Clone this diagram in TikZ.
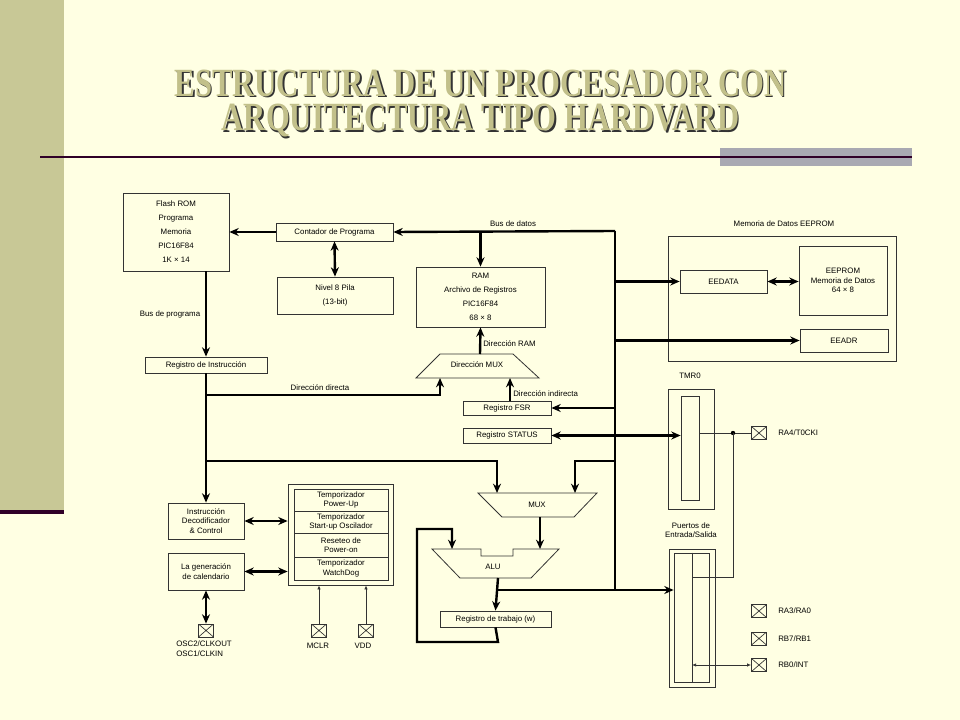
\documentclass[tikz,border=0pt]{standalone}
\usepackage{fontspec}
\setmainfont{Liberation Sans}
\newfontfamily\titlefont{Liberation Serif}
\usetikzlibrary{arrows.meta}
\definecolor{bg}{HTML}{FFFFE3}
\definecolor{barc}{HTML}{C8C896}
\definecolor{rulec}{HTML}{300028}
\definecolor{greyc}{HTML}{A9A9B2}
\definecolor{titc}{HTML}{C2C08A}
\definecolor{linec}{HTML}{333333}
\tikzset{
  bx/.style 2 args={draw=linec, line width=0.6pt, minimum width=#1*0.75pt, minimum height=#2*0.75pt, inner sep=0pt, align=center, font=\fontsize{5.9}{7}\selectfont},
  lbl/.style={font=\fontsize{5.9}{7}\selectfont, inner sep=0pt, align=center},
  ttl/.style={font=\titlefont\bfseries\fontsize{25}{28}\selectfont, xscale=0.92, yscale=1.2},
  bus/.style={line width=1.8pt, black},
  busa/.style={bus, -{Stealth[length=7pt,width=6pt]}},
  busb/.style={bus, {Stealth[length=7pt,width=6pt]}-{Stealth[length=7pt,width=6pt]}},
  thin/.style={draw=linec, line width=0.5pt},
  pin/.style={draw=linec, line width=0.6pt, minimum width=15*0.75pt, minimum height=13*0.75pt, inner sep=0pt,
    path picture={\draw[linec,line width=0.5pt] (path picture bounding box.south west)--(path picture bounding box.north east) (path picture bounding box.north west)--(path picture bounding box.south east);}}
}
\begin{document}
\begin{tikzpicture}[x=0.75pt,y=-0.75pt]
\fill[bg] (0,0) rectangle (960,720);
\useasboundingbox (0,0) rectangle (960,720);
\fill[barc] (0,0) rectangle (64,510);
\fill[rulec] (0,510) rectangle (64,514);
\fill[greyc] (720,148) rectangle (912,166);
\fill[rulec] (40,156) rectangle (912,158.5);
% title
\node (s1) [ttl, text=black!80] at (482,84.5) {ESTRUCTURA DE UN PROCESADOR CON};
\node (s2) [ttl, text=black!80] at (482,122.5) {ARQUITECTURA TIPO HARDVARD};
\node (t1) [ttl, text=titc] at (480.5,83) {ESTRUCTURA DE UN PROCESADOR CON};
\node (t2) [ttl, text=titc] at (480.5,121) {ARQUITECTURA TIPO HARDVARD};

% boxes
\node (rom) [bx={106}{78}, font=\fontsize{5.9}{10.5}\selectfont] at (176,232) {Flash ROM\\Programa\\Memoria\\PIC16F84\\1K × 14};
\node (pc) [bx={117}{18}] at (334.5,232) {Contador de Programa};
\node (pila) [bx={116}{37}, font=\fontsize{5.9}{10.5}\selectfont] at (335,295.5) {Nivel 8 Pila\\(13-bit)};
\node (ram) [bx={129}{60}, font=\fontsize{5.9}{10.5}\selectfont] at (480.5,297) {RAM\\Archivo de Registros\\PIC16F84\\68 × 8};
\node (ri) [bx={122}{16}] at (206,365) {Registro de Instrucción};
\node (fsr) [bx={88}{14}] at (507,408) {Registro FSR};
\node (status) [bx={88}{15}] at (507,435.5) {Registro STATUS};
\node (dec) [bx={76}{36}] at (206,521) {Instrucción\\Decodificador\\\& Control};
\node (gen) [bx={76}{37}] at (206,571.5) {La generación\\de calendario};
\node (timer) [bx={105}{101}] at (340.5,534.5) {};
\node (r1) [bx={94}{22}] at (341,500) {Temporizador\\Power-Up};
\node (r2) [bx={94}{22}] at (341,522) {Temporizador\\Start-up Oscilador};
\node (r3) [bx={94}{24}] at (341,545) {Reseteo de\\Power-on};
\node (r4) [bx={94}{23}] at (341,568.5) {Temporizador\\WatchDog};
\node (w) [bx={111}{16}] at (495.5,619) {Registro de trabajo (w)};
\node (eemem) [bx={228}{125}] at (782,298.5) {};
\node (eememl) [lbl] at (784,224) {Memoria de Datos EEPROM};
\node (eedata) [bx={87}{23}] at (723.5,281.5) {EEDATA};
\node (eeprom) [bx={88}{69}] at (843,280.5) {EEPROM\\Memoria de Datos\\64 × 8};
\node (eeadr) [bx={88}{23}] at (844,340.5) {EEADR};
\node (tmr) [bx={46}{120}] at (691,449) {};
\node (tmri) [bx={18}{104}] at (690,448) {};
\node (tmrl) [lbl] at (690,376) {TMR0};
\node (io) [bx={46}{138}] at (692,618) {};
\node (ioi) [bx={35}{129}] at (691.5,617.5) {};
\node (iol) [lbl] at (691,530) {Puertos de\\Entrada/Salida};
\draw[thin] (ioi.north) ++(0.5,0) coordinate (dvt) -- (dvt |- ioi.south);

% pins
\node (osc) [pin] at (206,630.5) {};
\node (oscl) [lbl, align=left, anchor=north west, font=\fontsize{5.9}{6.8}\selectfont] at (176,641) {OSC2/CLKOUT\\OSC1/CLKIN};
\node (mclr) [pin] at (319,630.5) {};
\node (mclrl) [lbl] at (318,646) {MCLR};
\node (vdd) [pin] at (366,630.5) {};
\node (vddl) [lbl] at (363,646) {VDD};
\node (ra4) [pin] at (759,433) {};
\node (ra4l) [lbl, anchor=west] at (778,433) {RA4/T0CKI};
\node (ra3) [pin] at (759,611) {};
\node (ra3l) [lbl, anchor=west] at (778,611) {RA3/RA0};
\node (rb7) [pin] at (759,638.5) {};
\node (rb7l) [lbl, anchor=west] at (778,638.5) {RB7/RB1};
\node (rb0) [pin] at (759,665) {};
\node (rb0l) [lbl, anchor=west] at (778,665) {RB0/INT};

% trapezoids
\draw[thin, line width=0.6pt] (416,378) -- (440,354) -- (513,354) -- (539,378) -- cycle;
\node (dmux) [lbl] at (477,365) {Dirección MUX};
\draw[thin, line width=0.6pt] (478,493) -- (597,493) -- (574,517) -- (502,517) -- cycle;
\node (mux) [lbl] at (537,505) {MUX};
\draw[thin, line width=0.6pt] (432,549) -- (481,549) -- (481,556) -- (513,556) -- (513,549) -- (559,549) -- (531,578) -- (460,578) -- cycle;
\node (alu) [lbl] at (493,567) {ALU};

% coordinates
\coordinate (bT) at (615,231);
\coordinate (bB) at (615,590);
\coordinate (dmuxL) at (440,378);
\coordinate (dmuxR) at (510,378);
\coordinate (dmuxT) at (480,354);
\coordinate (muxL) at (497,493);
\coordinate (muxR) at (575,493);
\coordinate (muxB) at (540,517);
\coordinate (aluL) at (452,549);
\coordinate (aluR) at (540,549);
\coordinate (aluB) at (498,578);

% data bus
\draw[bus] (bT) -- (bB);
\draw[busa] (bT) -- (pc.east);
\draw[busa] (ram.north |- bT) -- (ram.north);
\node (busd) [lbl] at (513,224) {Bus de datos};
\draw[busa] (bT |- eedata) -- (eedata.west);
\draw[busb] (eedata.east) -- (eeprom.west |- eedata);
\draw[busa] (bT |- eeadr) -- (eeadr.west);
\draw[busa] (bT |- fsr) -- (fsr.east);
\draw[busb] (status.east) -- (tmri.west |- status);
\draw[busa] (bT |- 0,461) -| (muxR);
\draw[busa] (bB) -- (ioi.west |- bB);
\draw[bus] (bB) -- (aluB |- bB);
\draw[busa] (aluB) -- (w.north);
\draw[busa] (w.south) -- (498,642) -- (417,642) -- (417,529) -| (aluL);
\draw[busa] (muxB) -- (aluR);

% left program path
\draw[busa] (pc.west) -- (rom.east |- pc);
\draw[busb] (pc.south) -- (pila.north);
\draw[busa] (ri.north |- rom.south) -- (ri.north);
\node (busp) [lbl] at (170,314) {Bus de programa};
\draw[busa] (ri.south) -- (dec.north);
\draw[busa] (ri.south |- 0,395) -| (dmuxL);
\node (ddir) [lbl] at (320,388) {Dirección directa};
\draw[busa] (ri.south |- 0,461) -| (muxL);
\draw[busa] (dmuxT) -- (ram.south);
\node (dram) [lbl, anchor=west] at (483,344) {Dirección RAM};
\draw[busa] (fsr.north -| dmuxR) -- (dmuxR);
\node (dind) [lbl, anchor=west] at (513,394) {Dirección indirecta};

% control
\draw[busb] (dec.east) -- (timer.west |- dec);
\draw[busb] (gen.east) -- (timer.west |- gen);
\draw[busb] (gen.south) -- (osc.north);
\draw[thin, -{Latex[length=3pt,width=2.5pt]}] (mclr.north) -- (mclr.north |- timer.south);
\draw[thin, -{Latex[length=3pt,width=2.5pt]}] (vdd.north) -- (vdd.north |- timer.south);

% timer/io
\coordinate (dot) at (733,433);
\draw[thin] (tmri.east |- ra4) -- (ra4.west);
\fill (dot) circle (2.2);
\draw[thin] (dot) -- (733,577) -- (dvt |- 0,577);
\draw[thin, {Latex[length=3pt,width=2.5pt]}-{Latex[length=3pt,width=2.5pt]}] (dvt |- rb0) -- (rb0.west);
\end{tikzpicture}
\end{document}
